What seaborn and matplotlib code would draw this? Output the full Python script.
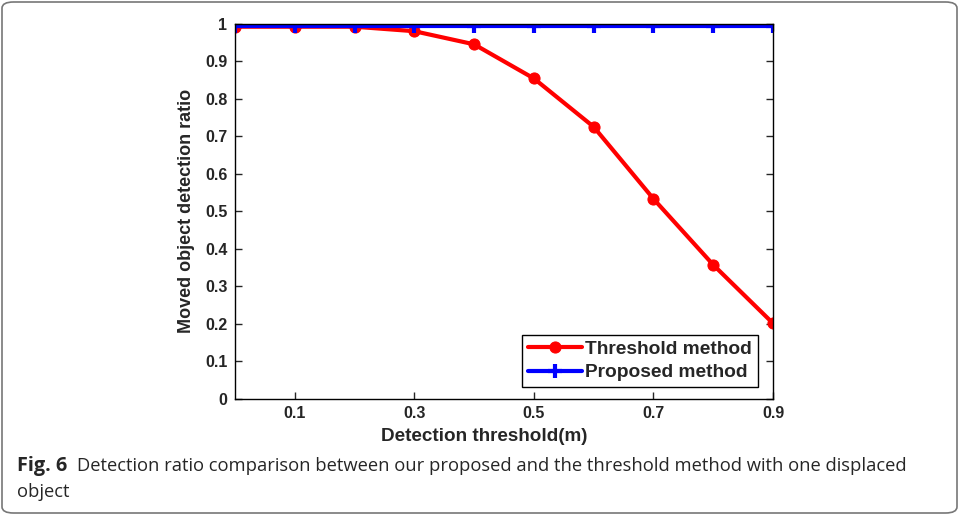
import pandas as pd
import seaborn as sns
import matplotlib.pyplot as plt
from matplotlib.patches import FancyBboxPatch

thresholds = [0.0, 0.1, 0.2, 0.3, 0.4, 0.5, 0.6, 0.7, 0.8, 0.9]
threshold_ratio = [0.992, 0.992, 0.992, 0.980, 0.945, 0.854, 0.725, 0.533, 0.357, 0.201]
proposed_ratio = [0.995] * len(thresholds)
method_names = ["Threshold method", "Proposed method"]
x_ticks = [0.1, 0.3, 0.5, 0.7, 0.9]
y_ticks = [0, 0.1, 0.2, 0.3, 0.4, 0.5, 0.6, 0.7, 0.8, 0.9, 1]
caption_head = "Fig. 6"
caption_body = "Detection ratio comparison between our proposed and the threshold method with one displaced"
caption_tail = "object"

thr_df = pd.DataFrame({"thr": thresholds, "ratio": threshold_ratio})
prop_df = pd.DataFrame({"thr": thresholds, "ratio": proposed_ratio})

sns.set_style("ticks")
plt.rcParams["font.family"] = ["Liberation Sans", "DejaVu Sans"]

W, H = 959, 515
fig = plt.figure(figsize=(W / 100, H / 100), dpi=100)
ax = fig.add_axes([235 / W, 1 - 398.7 / H, 538 / W, 375 / H])

sns.lineplot(data=thr_df, x="thr", y="ratio", color="#ff0000", marker="o",
             linewidth=3, markersize=8, markeredgecolor="#ff0000",
             label=method_names[0], ax=ax)
sns.lineplot(data=prop_df, x="thr", y="ratio", color="#0000ff", marker="+",
             linewidth=3, markersize=10, markeredgewidth=3, markeredgecolor="#0000ff",
             label=method_names[1], ax=ax)

ax.set_xlim(0, 0.9)
ax.set_ylim(0, 1)
ax.set_xticks(x_ticks)
ax.set_xticklabels([f"{v:g}" for v in x_ticks])
ax.set_yticks(y_ticks)
ax.set_yticklabels([f"{v:g}" for v in y_ticks])
for s in ax.spines.values():
    s.set_visible(True)
    s.set_color("black")
    s.set_linewidth(1)
ax.tick_params(direction="in", length=5, width=1, top=True, right=True,
               labelsize=11.5, pad=5.5)
for lbl in ax.get_xticklabels() + ax.get_yticklabels():
    lbl.set_fontweight("bold")

ax.set_xlabel("Detection threshold(m)", fontsize=13.6, fontweight="bold")
ax.set_ylabel("Moved object detection ratio", fontsize=13, fontweight="bold")
ax.xaxis.set_label_coords(0.463, -0.077)
ax.yaxis.set_label_coords(-0.075, 0.5)

handles, labels = ax.get_legend_handles_labels()
leg = ax.legend(handles, labels, loc="lower right", bbox_to_anchor=(0.972, 0.031),
                borderaxespad=0, fancybox=False, edgecolor="black",
                prop={"weight": "bold", "size": 13.8}, handlelength=2.8,
                handletextpad=0.2, borderpad=0.3, labelspacing=0.3, framealpha=1)
leg.get_frame().set_linewidth(1)

# caption
cap_font = ["Open Sans", "DejaVu Sans"]
renderer = fig.canvas.get_renderer()
head = fig.text(17 / W, 1 - 471 / H, caption_head, fontsize=14.3, fontweight="bold",
                va="baseline", ha="left", family=cap_font)
body = fig.text(77 / W, 1 - 471 / H, caption_body, fontsize=13.3,
                va="baseline", ha="left", family=cap_font)
fig.canvas.draw()
bw = body.get_window_extent(renderer).width
body.set_fontsize(13.3 * 831 / bw)
fig.text(17 / W, 1 - 497 / H, caption_tail, fontsize=body.get_fontsize(),
         va="baseline", ha="left", family=cap_font)

border = FancyBboxPatch((2 / W, 2 / H), 955 / W, 511 / H,
                        boxstyle="round,pad=0,rounding_size=0.012",
                        transform=fig.transFigure, fill=False,
                        edgecolor="#777777", linewidth=1.2)
fig.patches.append(border)

fig.savefig("out.png", dpi=100)
